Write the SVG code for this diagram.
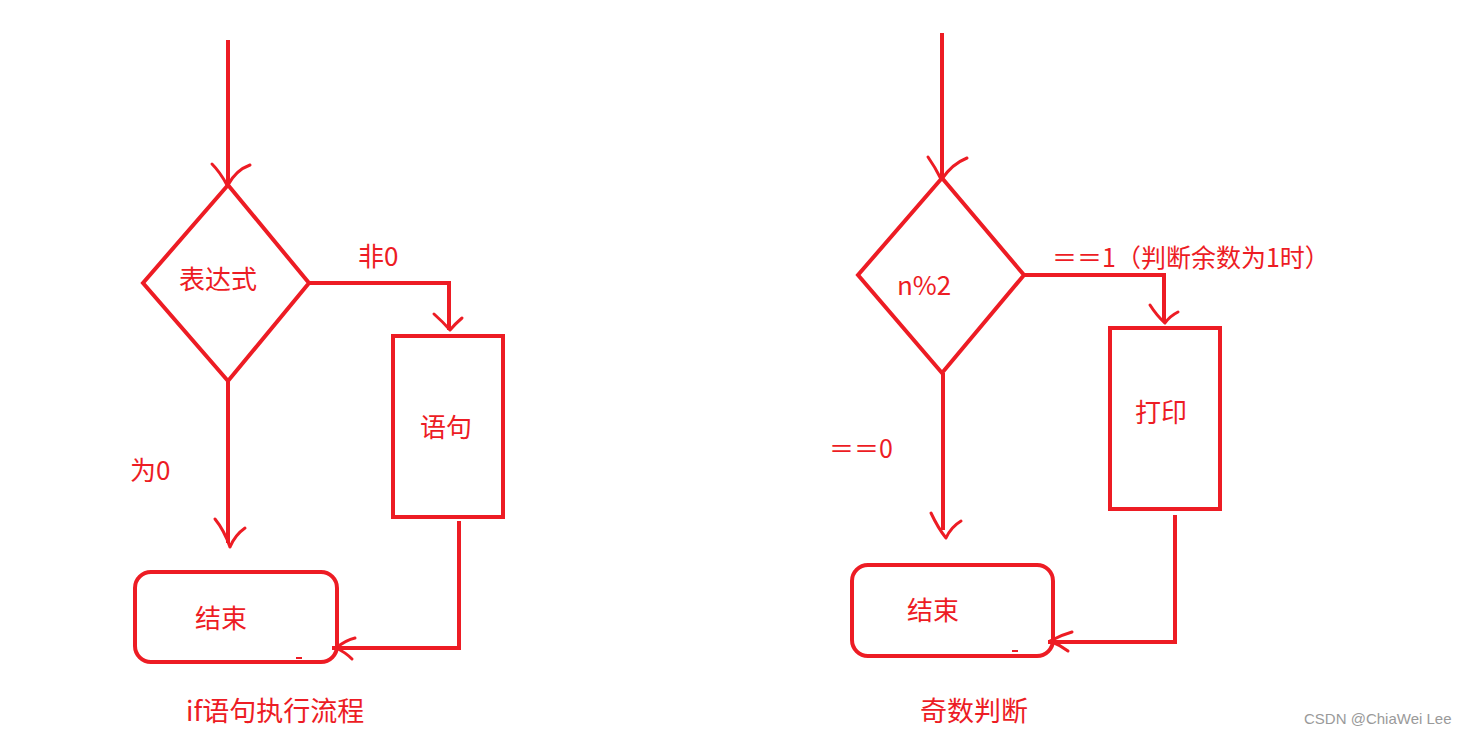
<svg xmlns="http://www.w3.org/2000/svg" width="1474" height="735" viewBox="0 0 1474 735">
<style>
.s{fill:none;stroke:#ed1c24;stroke-width:4;stroke-linecap:butt;stroke-linejoin:miter}
.a{fill:none;stroke:#ed1c24;stroke-width:3;stroke-linecap:round}
.d{fill:none;stroke:#ed1c24;stroke-width:2}
.t{fill:#ed1c24;font-family:"Noto Sans CJK SC","Noto Sans",sans-serif;font-size:26px}
.w{fill:#9a9a9a;font-family:"Liberation Sans",Arial,sans-serif;font-size:15px}
</style>
<rect width="1474" height="735" fill="#ffffff"/>
<g id="connectors">
<path class="s" d="M228,40 V185"/>
<path class="a" d="M212,164 Q220,172 227,185 M250,165 Q236,170 228,185"/>
<path class="s" d="M309,283 H449 V330"/>
<path class="a" d="M434,314 Q443,322 450,330 M462,318 Q455,324 450,330"/>
<path class="s" d="M228,381 V543"/>
<path class="a" d="M215,519 Q224,530 230,547 M245,528 Q235,535 230,547"/>
<path class="s" d="M459,521 V648 H332"/>
<path class="a" d="M355,638 Q346,640 336,648 M352,659 Q345,652 336,648"/>
<path class="s" d="M942,33 V178"/>
<path class="a" d="M928,157 Q935,167 941,179 M967,158 Q952,164 942,179"/>
<path class="s" d="M1024,275 H1164 V321"/>
<path class="a" d="M1150,305 Q1157,316 1165,323 M1178,312 Q1170,316 1165,323"/>
<path class="s" d="M943,373 V530"/>
<path class="a" d="M931,513 Q938,528 946,538 M961,521 Q951,527 946,538"/>
<path class="s" d="M1175,515 V642 H1048"/>
<path class="a" d="M1072,632 Q1061,635 1050,641 M1068,651 Q1060,645 1050,641"/>
</g>
<g id="decision1">
<polygon class="s" points="228,185 309,283 228,381 143,283"/>
<text class="t" x="179" y="289">表达式</text>
</g>
<g id="label-non0"><text class="t" x="358" y="266">非0</text></g>
<g id="label-is0"><text class="t" x="130" y="480">为0</text></g>
<g id="stmt">
<rect class="s" x="393" y="336" width="110" height="181"/>
<text class="t" x="420" y="437">语句</text>
</g>
<g id="end1">
<rect class="s" x="135" y="572" width="202" height="90" rx="16"/>
<path class="d" d="M296,658 H302"/>
<text class="t" x="195" y="628">结束</text>
</g>
<g id="title1"><text class="t" x="186" y="721" style="font-size:27px">if语句执行流程</text></g>
<g id="decision2">
<polygon class="s" points="942,178 1024,275 942,373 858,275"/>
<text class="t" x="897" y="295">n%2</text>
</g>
<g id="label-eq1"><text class="t" x="1052" y="267" style="font-size:25px">＝＝1（判断余数为1时）</text></g>
<g id="label-eq0"><text class="t" x="829" y="458" style="font-size:25px">＝＝0</text></g>
<g id="print">
<rect class="s" x="1110" y="328" width="110" height="181"/>
<text class="t" x="1135" y="422">打印</text>
</g>
<g id="end2">
<rect class="s" x="852" y="565" width="201" height="91" rx="16"/>
<path class="d" d="M1012,651 H1018"/>
<text class="t" x="907" y="620">结束</text>
</g>
<g id="title2"><text class="t" x="920" y="721" style="font-size:27px">奇数判断</text></g>
<text class="w" x="1304" y="724">CSDN @ChiaWei Lee</text>
</svg>
